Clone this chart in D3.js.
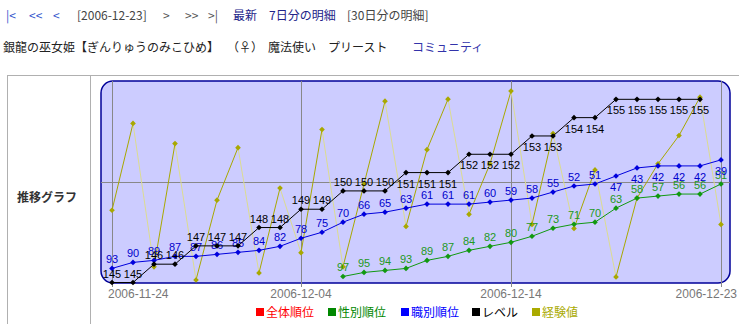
<!DOCTYPE html>
<html><head><meta charset="utf-8">
<script src="https://cdn.jsdelivr.net/npm/d3@7"></script>
<style>body{margin:0;background:#fff}svg{display:block}</style>
</head><body>
<svg id="c" width="739" height="324"></svg>
<script>
// ---- data ----
const dayIndex = d3.range(30);
const level = [145,145,146,146,147,147,147,148,148,149,149,150,150,150,151,151,151,152,152,152,153,153,154,154,155,155,155,155,155,null];
const classRank = [93,90,89,87,87,86,85,84,82,78,75,70,66,65,63,61,61,61,60,59,58,55,52,51,47,43,42,42,42,39];
const sexRank = [null,null,null,null,null,null,null,null,null,null,null,97,95,94,93,89,87,84,82,80,77,73,71,70,63,58,57,56,56,51];
const expPct = [36,79,8,69,1.5,41,67,5,47,15,76,8,49,90,28,66,91,34,59,95,29,74,27,56,3,42,59,73,92,29];
const tickIndex = [0,9,19,29];
const tickLabels = ["2006-11-24","2006-12-04","2006-12-14","2006-12-23"];
const legendNames = ["全体順位","性別順位","職別順位","レベル","経験値"];
const legendColors = ["#ff0000","#008800","#0000ff","#000000","#aaaa00"];

// ---- layout ----
const svg = d3.select("#c");
const P = {x0:101, x1:730, y0:81, y1:283};
const midY = (P.y0 + P.y1) / 2;
const x = d3.scaleLinear().domain([0,29]).range([112,721]);
const yRank = d3.scaleLinear().domain([0,100]).range([81.5,282.5]);
const yLevel = d3.scaleLinear().domain([145,156]).range([282.5,81]);
const yExp = d3.scaleLinear().domain([0,100]).range([283,81]);

const CJK = "'Noto Sans CJK JP','Noto Sans',sans-serif";
const LAT = "'Liberation Sans',Arial,sans-serif";

// header line 1
const h1 = [
  ["|<",6,"#3355cc"],["<<",29,"#3355cc"],["<",53,"#3355cc"],
  ["[2006-12-23]",77,"#444"],[">",163,"#555"],[">>",185,"#555"],[">|",208,"#555"],
  ["最新",233,"#222288"],["7日分の明細",269,"#222288"],["[30日分の明細]",347,"#444"]
];
svg.selectAll("text.h1").data(h1).join("text").attr("class","h1")
  .attr("x",d=>d[1]).attr("y",20).attr("fill",d=>d[2])
  .style("font-family",CJK).style("font-size","12px").text(d=>d[0]);
const h2 = [
  ["銀龍の巫女姫【ぎんりゅうのみこひめ】",3,"#222"],["（♀）",227,"#222"],
  ["魔法使い",268,"#222"],["プリースト",328,"#222"],["コミュニティ",412,"#3333aa"]
];
svg.selectAll("text.h2").data(h2).join("text").attr("class","h2")
  .attr("x",d=>d[1]).attr("y",52).attr("fill",d=>d[2])
  .style("font-family",CJK).style("font-size","12px").text(d=>d[0]);

// table borders
const tb = svg.append("g").attr("stroke","#b0b0b0").attr("stroke-width",1);
tb.append("line").attr("x1",7).attr("x2",739).attr("y1",75.5).attr("y2",75.5);
tb.append("line").attr("x1",7.5).attr("x2",7.5).attr("y1",75).attr("y2",324);
tb.append("line").attr("x1",90.5).attr("x2",90.5).attr("y1",75).attr("y2",324);

svg.append("text").attr("x",47).attr("y",202).attr("text-anchor","middle")
  .attr("fill","#333").style("font-family",CJK).style("font-size","12px")
  .style("font-weight","bold").text("推移グラフ");

// plot background
svg.append("rect").attr("x",P.x0).attr("y",P.y0).attr("width",P.x1-P.x0).attr("height",P.y1-P.y0)
  .attr("rx",12).attr("ry",12).attr("fill","#ccccff").attr("stroke","#000099").attr("stroke-width",1.5);

// grid
const g = svg.append("g").attr("stroke","#888").attr("stroke-width",1);
g.append("line").attr("x1",P.x0).attr("x2",P.x1).attr("y1",Math.round(midY)+0.5).attr("y2",Math.round(midY)+0.5);
g.selectAll("line.v").data(tickIndex).join("line").attr("class","v")
  .attr("x1",d=>Math.round(x(d))+0.5).attr("x2",d=>Math.round(x(d))+0.5)
  .attr("y1",P.y0).attr("y2",P.y1+4);

// x tick labels (clamped to the frame)
svg.selectAll("text.tick").data(tickIndex).join("text").attr("class","tick")
  .attr("y",298).attr("fill","#777").style("font-family",LAT).style("font-size","12px")
  .text((d,i)=>tickLabels[i])
  .each(function(d){
    const w = this.getComputedTextLength();
    let l = x(d) - w/2;
    l = Math.max(108, Math.min(737 - w, l));
    d3.select(this).attr("x", l);
  });

// experience line: rising segments dark, falling segments pale
const segs = d3.pairs(dayIndex);
svg.append("g").selectAll("line").data(segs).join("line")
  .attr("x1",d=>x(d[0])).attr("y1",d=>yExp(expPct[d[0]]))
  .attr("x2",d=>x(d[1])).attr("y2",d=>yExp(expPct[d[1]]))
  .attr("stroke",d=>expPct[d[1]]>=expPct[d[0]]?"#a8a800":"#dcdc90")
  .attr("stroke-width",1);

const diamond = d3.symbol(d3.symbolSquare, 16)();

function series(vals, yS, lineColor, labelColor, showLabels, markColor) {
  const line = d3.line().defined(d=>vals[d]!=null).x(d=>x(d)).y(d=>yS(vals[d]));
  svg.append("path").datum(dayIndex).attr("d",line).attr("fill","none")
    .attr("stroke",lineColor).attr("stroke-width",1);
  const pts = dayIndex.filter(d=>vals[d]!=null);
  svg.append("g").selectAll("path").data(pts).join("path").attr("d",diamond)
    .attr("transform",d=>`translate(${x(d)},${yS(vals[d])}) rotate(45)`)
    .attr("fill",markColor||lineColor);
  if (showLabels) {
    svg.append("g").selectAll("text").data(pts).join("text")
      .attr("x",d=>x(d)).attr("y",d=>{const yy=yS(vals[d]); return yy<midY? yy+15 : yy-5;})
      .attr("text-anchor","middle").attr("fill",labelColor)
      .style("font-family",LAT).style("font-size","11px").text(d=>vals[d]);
  }
}
// exp markers
svg.append("g").selectAll("path").data(dayIndex).join("path").attr("d",diamond)
  .attr("transform",d=>`translate(${x(d)},${yExp(expPct[d])}) rotate(45)`).attr("fill","#a8a800");

series(sexRank, yRank, "#119911", "#229922", true);
series(classRank, yRank, "#0000dd", "#0000cc", true);
series(level, yLevel, "#000000", "#000000", true);

// legend
const lx = [256,328,401,472,532];
const lg = svg.append("g");
lg.selectAll("rect").data(legendNames).join("rect")
  .attr("x",(d,i)=>lx[i]).attr("y",308).attr("width",8).attr("height",8)
  .attr("fill",(d,i)=>legendColors[i]);
lg.selectAll("text").data(legendNames).join("text")
  .attr("x",(d,i)=>lx[i]+10).attr("y",317).attr("fill",(d,i)=>legendColors[i])
  .style("font-family",CJK).style("font-size","12px").text(d=>d);
</script>
</body></html>
